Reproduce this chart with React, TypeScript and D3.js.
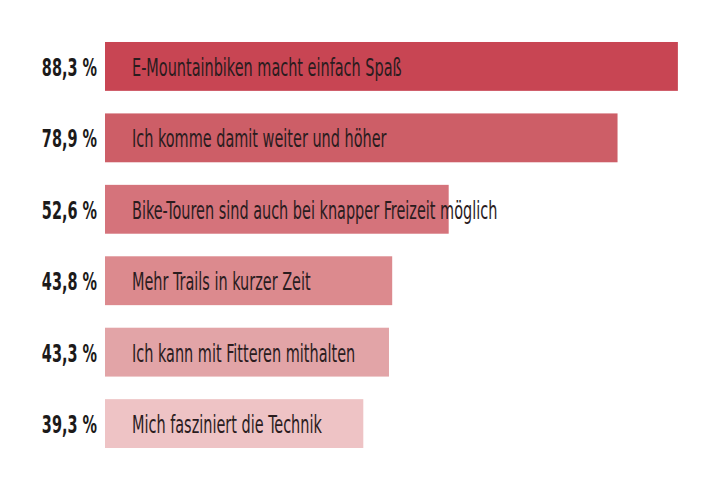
import { useEffect, useRef } from "react";
import * as d3 from "d3";

const reasons = [
  "E-Mountainbiken macht einfach Spaß",
  "Ich komme damit weiter und höher",
  "Bike-Touren sind auch bei knapper Freizeit möglich",
  "Mehr Trails in kurzer Zeit",
  "Ich kann mit Fitteren mithalten",
  "Mich fasziniert die Technik",
];
const shares = [88.3, 78.9, 52.6, 43.8, 43.3, 39.3];
const shareLabels = ["88,3 %", "78,9 %", "52,6 %", "43,8 %", "43,3 %", "39,3 %"];
const barColors = ["#c84553", "#cd5e67", "#d5737b", "#dc8a8e", "#e2a4a7", "#eec3c5"];

const WIDTH = 712;
const HEIGHT = 480;
const FONT = "'DejaVu Sans Condensed', 'Liberation Sans Narrow', sans-serif";
const SQUEEZE = 0.67; // schmale Schrift nachbilden

export default function App() {
  const svgRef = useRef<SVGSVGElement>(null);

  useEffect(() => {
    if (!svgRef.current) return;
    const svg = d3.select(svgRef.current);
    svg.selectAll("*").remove();

    const barLeft = 105;
    const x = d3.scaleLinear().domain([0, 100]).range([111, 753]);
    const y = d3
      .scaleBand<string>()
      .domain(reasons)
      .range([30.7, 459.3])
      .paddingInner(0.316)
      .paddingOuter(0.158);

    const rows = svg
      .selectAll<SVGGElement, string>("g.row")
      .data(reasons)
      .join("g")
      .attr("class", "row")
      .attr("transform", (d) => `translate(0,${y(d)})`);

    rows
      .append("rect")
      .attr("x", barLeft)
      .attr("width", (_, i) => x(shares[i]) - barLeft)
      .attr("height", y.bandwidth())
      .attr("fill", (_, i) => barColors[i]);

    // Prozentwerte links
    rows
      .append("text")
      .attr("transform", `translate(97,${y.bandwidth() / 2}) scale(${SQUEEZE},1)`)
      .attr("dy", "0.39em")
      .attr("text-anchor", "end")
      .attr("font-family", FONT)
      .attr("font-weight", "bold")
      .attr("font-size", 24)
      .attr("fill", "#1c1a1a")
      .text((_, i) => shareLabels[i]);

    // Antworttext im Balken
    rows
      .append("text")
      .attr("transform", `translate(132,${y.bandwidth() / 2}) scale(${SQUEEZE},1)`)
      .attr("dy", "0.39em")
      .attr("font-family", FONT)
      .attr("font-size", 24)
      .attr("fill", "#2a1c1e")
      .text((d) => d);
  }, []);

  return (
    <svg
      ref={svgRef}
      width={WIDTH}
      height={HEIGHT}
      style={{ position: "absolute", left: 0, top: 0, background: "#fff" }}
    />
  );
}
